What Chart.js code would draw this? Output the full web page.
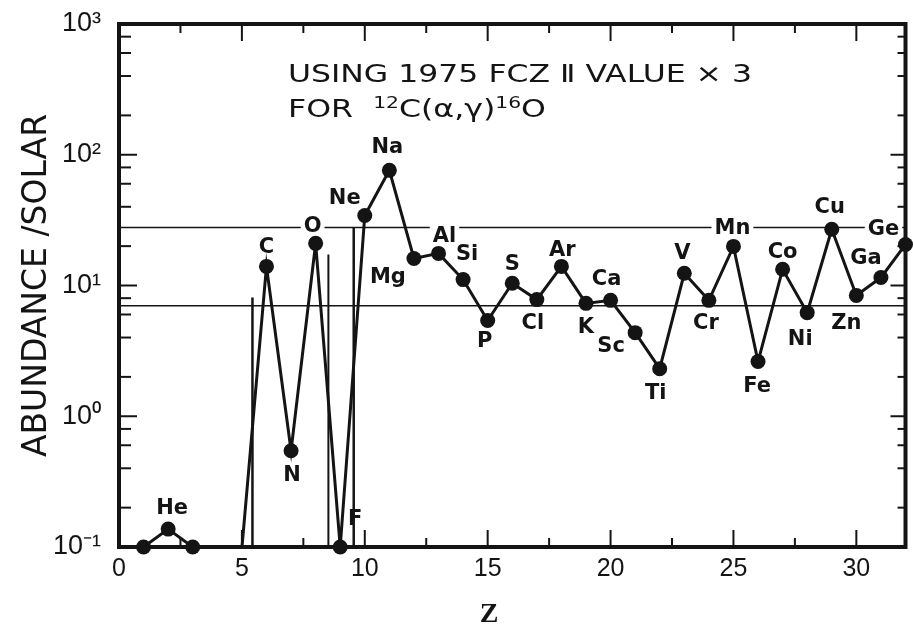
<!DOCTYPE html>
<html>
<head>
<meta charset="utf-8">
<script src="https://cdn.jsdelivr.net/npm/chart.js@4.4.0/dist/chart.umd.min.js"></script>
<style>
  html, body { margin: 0; padding: 0; background: #fff; }
  #wrap { width: 913px; height: 631px; position: relative; }
</style>
</head>
<body>
<div id="wrap"><canvas id="chartCanvas"></canvas></div>
<script>
// Elementos y abundancia relativa al sol
const elements = ['H', 'He', 'Li', 'Be', 'B', 'C', 'N', 'O', 'F', 'Ne', 'Na', 'Mg', 'Al', 'Si', 'P', 'S',
                  'Cl', 'Ar', 'K', 'Ca', 'Sc', 'Ti', 'V', 'Cr', 'Mn', 'Fe', 'Co', 'Ni', 'Cu', 'Zn', 'Ga', 'Ge'];
const atomicNumber = [1, 2, 3, 4, 5, 6, 7, 8, 9, 10, 11, 12, 13, 14, 15, 16,
                      17, 18, 19, 20, 21, 22, 23, 24, 25, 26, 27, 28, 29, 30, 31, 32];
const abundance = [0.1, 0.137, 0.1, 0.001, 0.098, 14.0, 0.545, 21.0, 0.1, 34.3, 76, 16.1, 17.6, 11.1, 5.4, 10.4,
                   7.8, 14.0, 7.3, 7.7, 4.36, 2.31, 12.4, 7.7, 19.9, 2.62, 13.3, 6.2, 26.9, 8.4, 11.5, 20.6];

// Líneas de referencia horizontales y cortes verticales
const referenceLevels = [27.8, 7.0];
const cutZ = [5.43, 8.52, 9.55];
const cutTop = [8.1, 17.3, 27.8];

// Ejes
const xTicks = [0, 5, 10, 15, 20, 25, 30];
const yTicks = [0.1, 1, 10, 100, 1000];
const yTickLabels = ['10⁻¹', '10⁰', '10¹', '10²', '10³'];

const noteLine1 = 'USING 1975 FCZ Ⅱ VALUE × 3';

// Desplazamiento de cada etiqueta respecto a su punto (px); null = sin etiqueta
const labelOffsets = [null, [4, -22], null, null, null, [0, -20], [1, 24], [-3, -18], [15, -28], [-20, -18],
                      [-2, -24], [-26, 18], [6, -18], [4, -26], [-3, 20], [0, -20], [-4, 23], [1, -17],
                      [0, 23], [-4, -22], [-24, 13], [-4, 24], [-2, -21], [-3, 22], [-1, -19], [-1, 24],
                      [0, -18], [-7, 26], [-2, -23], [-10, 27], [-15, -20], [-22, -16]];

const INK = '#141414';

const points = atomicNumber.map((z, i) => ({ x: z, y: abundance[i] }));

// Etiquetas de elementos con fondo blanco (tapan las líneas de referencia)
const labelPlugin = {
    id: 'elementLabels',
    afterDatasetDraw(chart, args) {
        if (chart.data.datasets[args.index].label !== 'lower level') return;
        const ctx = chart.ctx, xs = chart.scales.x, ys = chart.scales.y;
        ctx.save();
        ctx.font = 'bold 21px "DejaVu Sans"';
        ctx.textAlign = 'center';
        ctx.textBaseline = 'middle';
        const placed = [];
        elements.forEach((sym, i) => {
            const off = labelOffsets[i];
            if (!off) return;
            const px = xs.getPixelForValue(atomicNumber[i]) + off[0];
            const py = ys.getPixelForValue(abundance[i]) + off[1];
            placed.push([sym, px, py]);
        });
        ctx.fillStyle = '#fff';
        placed.forEach(([sym, px, py]) => {
            const w = ctx.measureText(sym).width;
            ctx.fillRect(px - w / 2 - 3, py - 11, w + 6, 22);
        });
        ctx.fillStyle = INK;
        placed.forEach(([sym, px, py]) => ctx.fillText(sym, px, py + 1));
        ctx.restore();
    }
};

// Texto estirado horizontalmente hasta un ancho dado
function stretchText(ctx, parts, x, y, width) {
    let total = 0;
    parts.forEach(p => { ctx.font = p.font; total += ctx.measureText(p.text).width; });
    const sx = width / total;
    ctx.save();
    ctx.translate(x, y);
    ctx.scale(sx, 1);
    let cx = 0;
    parts.forEach(p => {
        ctx.font = p.font;
        ctx.fillText(p.text, cx, p.dy || 0);
        cx += ctx.measureText(p.text).width;
    });
    ctx.restore();
}

// Marco, marcas hacia dentro, nota y título del eje X
const framePlugin = {
    id: 'frame',
    afterDraw(chart) {
        const { ctx, chartArea: a } = chart;
        const xs = chart.scales.x, ys = chart.scales.y;
        ctx.save();
        ctx.strokeStyle = INK;
        ctx.lineCap = 'butt';
        const seg = (x1, y1, x2, y2) => { ctx.beginPath(); ctx.moveTo(x1, y1); ctx.lineTo(x2, y2); ctx.stroke(); };

        ctx.lineWidth = 2;
        for (let v = 2.5; v < 32; v += 2.5) {
            const px = xs.getPixelForValue(v);
            const len = v % 5 === 0 ? 17 : 9;
            seg(px, a.bottom, px, a.bottom - len);
            seg(px, a.top, px, a.top + len);
        }
        for (let e = -1; e <= 2; e++) {
            [1, 2, 4, 6, 8].forEach(m => {
                const v = m * Math.pow(10, e);
                if (v <= 0.1) return;
                const py = ys.getPixelForValue(v);
                const major = m === 1;
                seg(a.left, py, a.left + (major ? 18 : 12), py);
                seg(a.right, py, a.right - (major ? 15 : 8), py);
            });
        }

        ctx.lineWidth = 4;
        ctx.strokeRect(a.left, a.top, a.right - a.left, a.bottom - a.top);

        // Nota
        ctx.fillStyle = INK;
        ctx.textBaseline = 'alphabetic';
        ctx.textAlign = 'left';
        const big = '25px "DejaVu Sans"', small = '16px "DejaVu Sans"';
        stretchText(ctx, [{ text: noteLine1, font: big }], 288, 82, 464);
        stretchText(ctx, [
            { text: 'FOR  ', font: big },
            { text: '12', font: small, dy: -9 },
            { text: 'C(α,γ)', font: big },
            { text: '16', font: small, dy: -9 },
            { text: 'O', font: big }
        ], 288, 117, 258);

        ctx.textAlign = 'center';
        ctx.textBaseline = 'middle';
        ctx.font = 'bold 28px "Liberation Serif"';
        ctx.fillText('Z', 489, 615);
        ctx.restore();
    }
};

const ctx = document.getElementById('chartCanvas').getContext('2d');
new Chart(ctx, {
    type: 'line',
    data: {
        datasets: [
            { label: 'upper level', data: [{ x: 0, y: referenceLevels[0] }, { x: 32, y: referenceLevels[0] }],
              borderColor: INK, borderWidth: 1.5, pointRadius: 0, order: 10 },
            { label: 'lower level', data: [{ x: 0, y: referenceLevels[1] }, { x: 32, y: referenceLevels[1] }],
              borderColor: INK, borderWidth: 1.5, pointRadius: 0, order: 9 },
            ...cutZ.map((z, i) => ({
                label: 'cut ' + i, data: [{ x: z, y: 0.1 }, { x: z, y: cutTop[i] }],
                borderColor: INK, borderWidth: i === 1 ? 2 : 2.5, pointRadius: 0, order: 5
            })),
            { label: 'abundance', data: points, borderColor: INK, borderWidth: 3,
              pointRadius: 0, order: 1 },
            { label: 'abundance points', data: points, showLine: false, clip: false,
              pointRadius: c => (c.raw && c.raw.y >= 0.1 ? 7.5 : 0),
              pointBackgroundColor: INK, pointBorderWidth: 0, order: 0 }
        ]
    },
    options: {
        responsive: true,
        maintainAspectRatio: false,
        animation: false,
        layout: { padding: { left: 0, right: 6, top: 24, bottom: 0 } },
        plugins: { legend: { display: false }, tooltip: { enabled: false } },
        scales: {
            x: {
                type: 'linear', min: 0, max: 32,
                grid: { display: false, drawTicks: false },
                border: { display: false },
                afterBuildTicks: s => { s.ticks = xTicks.map(v => ({ value: v })); },
                afterFit: s => { s.height = 84; },
                ticks: { color: INK, font: { family: 'Liberation Sans', size: 25 }, padding: 7,
                         maxRotation: 0, autoSkip: false, callback: v => String(v) }
            },
            y: {
                type: 'logarithmic', min: 0.1, max: 1000,
                grid: { display: false, drawTicks: false },
                border: { display: false },
                afterBuildTicks: s => { s.ticks = yTicks.map(v => ({ value: v })); },
                afterFit: s => { s.width = 119; s.paddingTop = 16; s.paddingBottom = 16; },
                ticks: { color: INK, font: { family: 'Liberation Sans', size: 27 }, padding: 18,
                         autoSkip: false,
                         callback: (v, i) => yTickLabels[i] },
                title: { display: true, text: 'ABUNDANCE /SOLAR', color: INK,
                         font: { family: 'DejaVu Sans', size: 33 }, padding: { top: 18, bottom: 0 } }
            }
        }
    },
    plugins: [labelPlugin, framePlugin]
});
</script>
</body>
</html>
